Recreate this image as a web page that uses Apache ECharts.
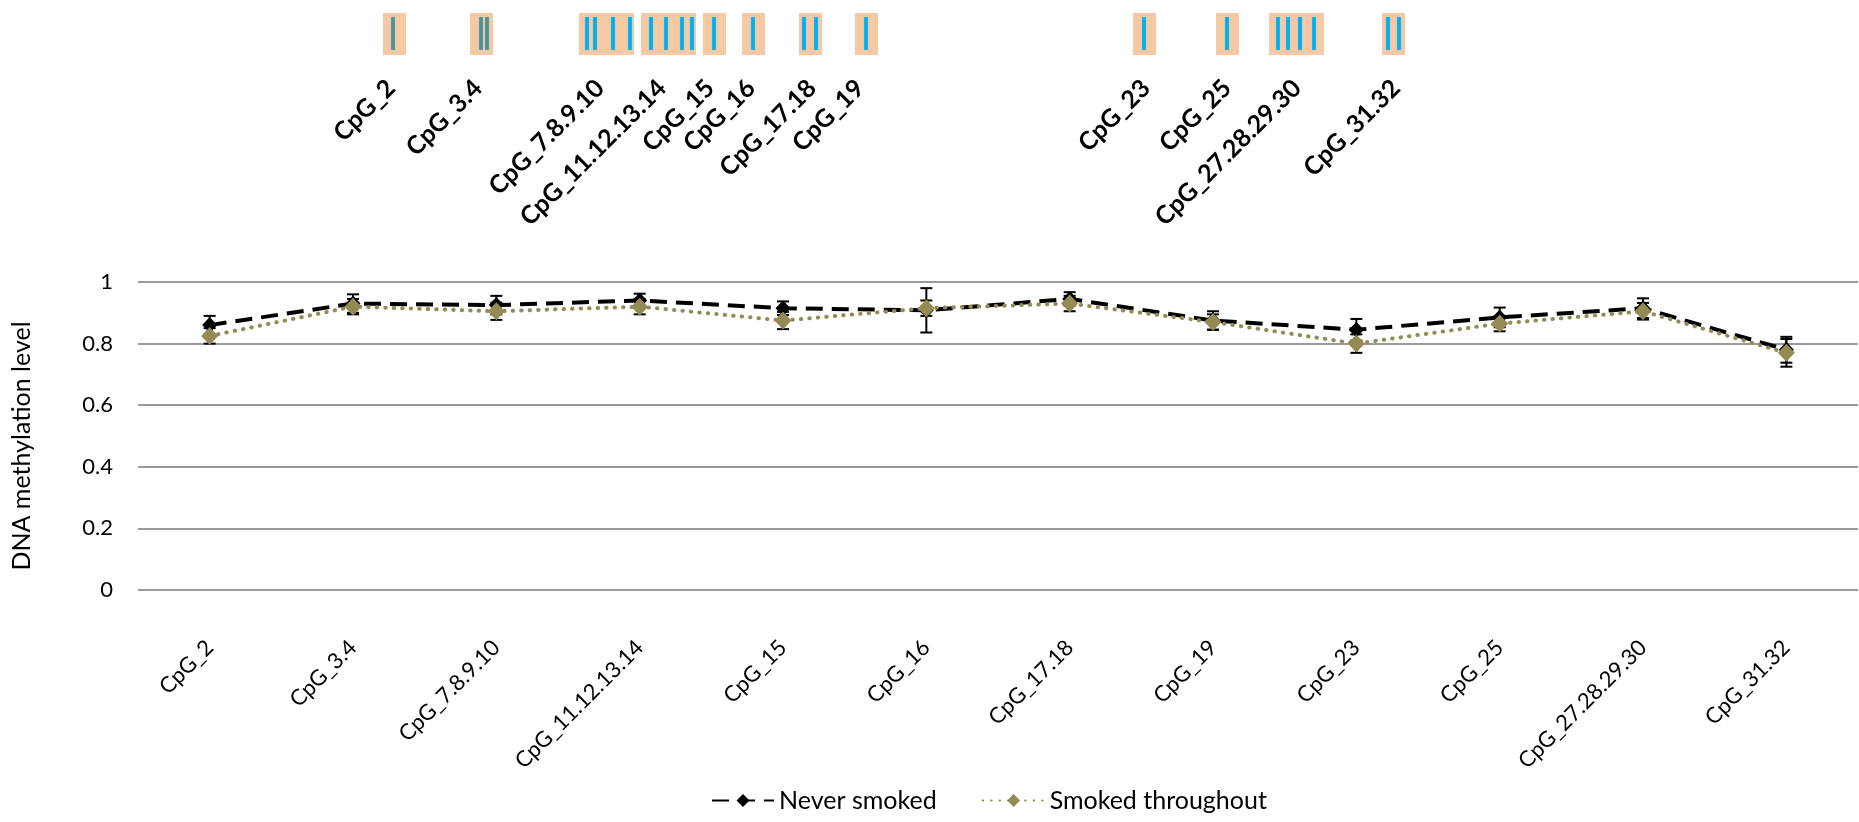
<!DOCTYPE html>
<html>
<head>
<meta charset="utf-8">
<script src="https://cdn.jsdelivr.net/npm/echarts@6/dist/echarts.min.js"></script>
<style>
  html, body { margin: 0; padding: 0; background: #fff; }
  #chart { width: 1859px; height: 822px; }
</style>
</head>
<body>
<div id="chart"></div>
<script>
// CpG units analysed
var categories = ['CpG_2', 'CpG_3.4', 'CpG_7.8.9.10', 'CpG_11.12.13.14', 'CpG_15', 'CpG_16',
  'CpG_17.18', 'CpG_19', 'CpG_23', 'CpG_25', 'CpG_27.28.29.30', 'CpG_31.32']

// mean methylation + error
var neverSmoked = [0.86, 0.93, 0.925, 0.94, 0.915, 0.908, 0.945, 0.875, 0.845, 0.885, 0.915, 0.78]
var neverSmokedErr = [0.03, 0.03, 0.03, 0.022, 0.022, 0.072, 0.022, 0.03, 0.035, 0.032, 0.032, 0.042]
var smokedThroughout = [0.825, 0.92, 0.905, 0.92, 0.875, 0.915, 0.93, 0.87, 0.8, 0.865, 0.905, 0.77]
var smokedThroughoutErr = [0.025, 0.025, 0.028, 0.025, 0.028, 0.025, 0.025, 0.025, 0.03, 0.025, 0.027, 0.045]

var yTicks = [0, 0.2, 0.4, 0.6, 0.8, 1]

// amplicon map above the chart, positions along the sequence
var unitSpans = [[383, 406], [470, 493], [579, 634], [641, 696], [703, 726], [742, 765],
  [799, 822], [855, 878], [1133, 1156], [1216, 1239], [1269, 1324], [1382, 1405]]
// [position, unit index]
var cpgSites = [[393, 0], [481, 1], [487, 1], [587, 2], [595, 2], [613, 2], [630, 2],
  [651, 3], [666, 3], [682, 3], [692, 3], [714, 4], [753, 5], [804, 6], [816, 6], [866, 7],
  [1144, 8], [1227, 9], [1278, 10], [1288, 10], [1300, 10], [1314, 10], [1388, 11], [1399, 11]]
// where each unit's name ends on the map
var unitLabelAt = [391, 478, 600, 662, 710, 751, 812, 860, 1146, 1227, 1297, 1396]

var font = 'Lato, "Open Sans", sans-serif'

function errorBars(values, errs, z) {
  return {
    type: 'custom',
    z: z,
    silent: true,
    data: values.map(function (v, i) { return [i, v - errs[i], v + errs[i]] }),
    encode: { x: 0, y: [1, 2] },
    renderItem: function (params, api) {
      var lo = api.coord([api.value(0), api.value(1)])
      var hi = api.coord([api.value(0), api.value(2)])
      var st = { stroke: '#000', lineWidth: 2 }
      return {
        type: 'group',
        children: [
          { type: 'line', shape: { x1: hi[0], y1: hi[1], x2: lo[0], y2: lo[1] }, style: st },
          { type: 'line', shape: { x1: hi[0] - 6, y1: hi[1], x2: hi[0] + 6, y2: hi[1] }, style: st },
          { type: 'line', shape: { x1: lo[0] - 6, y1: lo[1], x2: lo[0] + 6, y2: lo[1] }, style: st }
        ]
      }
    }
  }
}

var option = {
  animation: false,
  backgroundColor: '#fff',
  grid: [
    { left: 138, right: 1, top: 282, bottom: 232 },
    { left: 0, right: 0, top: 0, height: 100 }
  ],
  legend: {
    bottom: 4,
    left: 706,
    itemWidth: 62,
    itemHeight: 16,
    itemGap: 45,
    textStyle: { fontFamily: font, fontSize: 25, color: '#000' },
    data: ['Never smoked', 'Smoked throughout']
  },
  xAxis: [
    {
      type: 'category',
      data: categories,
      axisLine: { show: false },
      axisTick: { show: false },
      axisLabel: { interval: 0, rotate: 45, margin: 54, fontFamily: font, fontSize: 22, color: '#000' }
    },
    { type: 'value', gridIndex: 1, min: 0, max: 1859, show: false }
  ],
  yAxis: [
    {
      type: 'value',
      min: yTicks[0],
      max: yTicks[yTicks.length - 1],
      interval: 0.2,
      name: 'DNA methylation level',
      nameLocation: 'middle',
      nameGap: 104,
      nameTextStyle: { fontFamily: font, fontSize: 25, color: '#000', padding: [0, 20, 0, 0] },
      axisLabel: { margin: 25, fontFamily: font, fontSize: 22, color: '#000' },
      splitLine: { lineStyle: { color: '#9a9a9a', width: 2 } }
    },
    { type: 'value', gridIndex: 1, min: 0, max: 100, inverse: true, show: false }
  ],
  series: [
    errorBars(neverSmoked, neverSmokedErr, 1),
    {
      name: 'Never smoked',
      type: 'line',
      z: 2,
      data: neverSmoked,
      symbol: 'diamond',
      symbolSize: [15, 16],
      itemStyle: { color: '#000' },
      lineStyle: { color: '#000', width: 4, type: [17, 9] }
    },
    errorBars(smokedThroughout, smokedThroughoutErr, 3),
    {
      name: 'Smoked throughout',
      type: 'line',
      z: 4,
      data: smokedThroughout,
      symbol: 'diamond',
      symbolSize: [17, 18],
      itemStyle: { color: '#948A54' },
      lineStyle: { color: '#948A54', width: 4, type: [0.5, 8], cap: 'round' }
    },
    // amplicon map: unit boxes
    {
      type: 'custom',
      xAxisIndex: 1,
      yAxisIndex: 1,
      silent: true,
      data: unitSpans,
      renderItem: function (params, api) {
        var a = api.coord([api.value(0), 13])
        var b = api.coord([api.value(1), 55])
        return { type: 'rect', shape: { x: a[0], y: a[1], width: b[0] - a[0], height: b[1] - a[1] },
          style: { fill: '#F4C9A4' } }
      }
    },
    // amplicon map: CpG sites
    {
      type: 'custom',
      xAxisIndex: 1,
      yAxisIndex: 1,
      silent: true,
      data: cpgSites,
      renderItem: function (params, api) {
        var a = api.coord([api.value(0), 17])
        var b = api.coord([api.value(0), 50])
        var c = api.value(1) < 2 ? '#4F9190' : '#00B0F0'
        return { type: 'rect', shape: { x: a[0] - 2, y: a[1], width: 4, height: b[1] - a[1] },
          style: { fill: c, stroke: 'rgba(120,200,230,0.6)', lineWidth: 0.5 } }
      }
    },
    // amplicon map: unit names
    {
      type: 'custom',
      xAxisIndex: 1,
      yAxisIndex: 1,
      silent: true,
      data: unitLabelAt.map(function (x, i) { return [x, i] }),
      renderItem: function (params, api) {
        var p = api.coord([api.value(0), 84])
        return { type: 'text', x: p[0], y: p[1], rotation: Math.PI / 4,
          style: { text: categories[api.value(1)], align: 'right', verticalAlign: 'middle',
            fontFamily: font, fontSize: 25, fontWeight: 'bold', fill: '#000' } }
      }
    }
  ]
}

var chart = echarts.init(document.getElementById('chart'))
chart.setOption(option)
</script>
</body>
</html>
